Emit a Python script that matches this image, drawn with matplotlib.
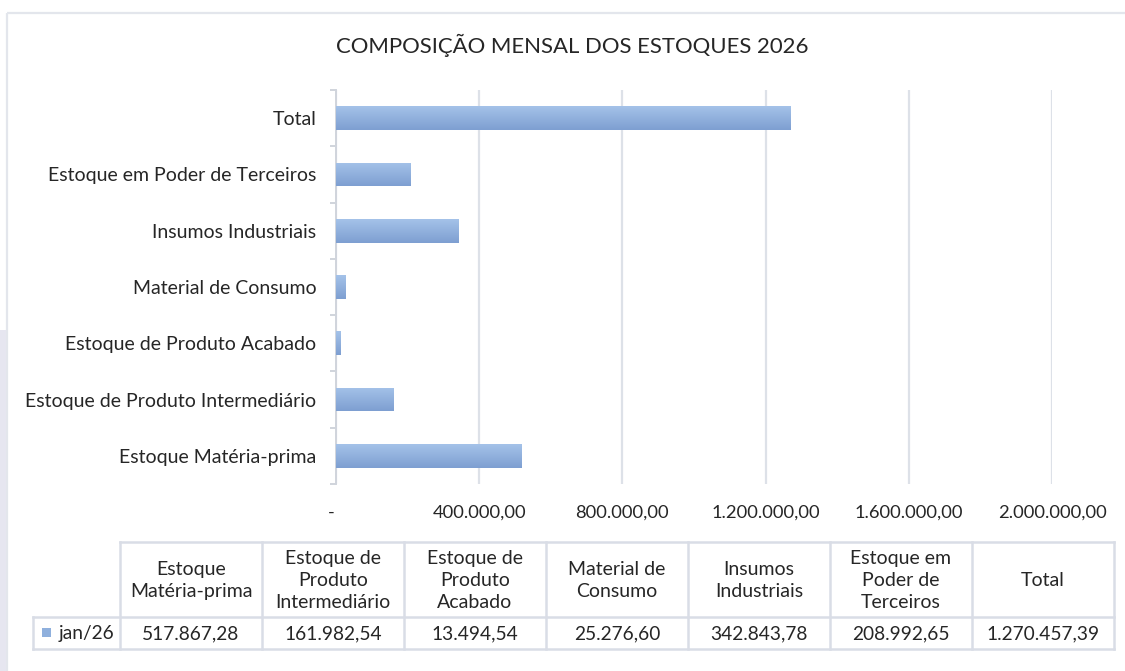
import numpy as np
import matplotlib
matplotlib.use("Agg")
import matplotlib.pyplot as plt
from matplotlib.colors import LinearSegmentedColormap
from matplotlib.patches import Rectangle

plt.rcParams['font.family'] = ['Lato', 'DejaVu Sans']

# data
categories = [
    "Estoque Matéria-prima",
    "Estoque de Produto Intermediário",
    "Estoque de Produto Acabado",
    "Material de Consumo",
    "Insumos Industriais",
    "Estoque em Poder de Terceiros",
    "Total",
]
table_headers = [
    "Estoque\nMatéria-prima",
    "Estoque de\nProduto\nIntermediário",
    "Estoque de\nProduto\nAcabado",
    "Material de\nConsumo",
    "Insumos\nIndustriais",
    "Estoque em\nPoder de\nTerceiros",
    "Total",
]
series_name = "jan/26"
values = [517867.28, 161982.54, 13494.54, 25276.60, 342843.78, 208992.65, 1270457.39]
x_ticks = [0, 400000, 800000, 1200000, 1600000, 2000000]
title = "COMPOSIÇÃO MENSAL DOS ESTOQUES 2026"


def fmt_br(v):
    if v == 0:
        return "-  "
    s = f"{v:,.2f}"
    return s.replace(",", "X").replace(".", ",").replace("X", ".")


W, H = 1125, 671
fig = plt.figure(figsize=(W / 100, H / 100), dpi=100)
fig.patch.set_facecolor("white")

text_color = "#262626"
grid_color = "#dde1e8"
border_color = "#d9dde6"

# chart area border + left lavender strip
overlay = fig.add_axes([0, 0, 1, 1], zorder=0)
overlay.set_xlim(0, W)
overlay.set_ylim(H, 0)
overlay.axis("off")
overlay.add_patch(Rectangle((7, 13), W + 10, H, fill=False, edgecolor="#e3e6ec", lw=1.6))
overlay.add_patch(Rectangle((0, 330), 6, H - 330, color="#e6e6f0", lw=0))

# bar chart
ax = fig.add_axes([336 / W, 1 - 484 / H, (1052 - 336) / W, (484 - 90) / H], zorder=1)
ax.patch.set_alpha(0)
y = np.arange(len(categories))
bars = ax.barh(y, values, height=0.42, color="#8fb0dd", zorder=2)

# vertical gradient for each bar (light on top, darker below)
grad = LinearSegmentedColormap.from_list("bar", ["#7e9fd1", "#a4c2e9"])
for b in bars:
    x0, y0, w, h = b.get_x(), b.get_y(), b.get_width(), b.get_height()
    im = ax.imshow(np.linspace(1, 0, 50).reshape(-1, 1), cmap=grad, aspect="auto",
                   extent=(x0, x0 + w, y0, y0 + h), origin="upper", zorder=3)
    im.set_clip_path(b)

ax.set_xlim(0, 2000000)
ax.set_ylim(-0.5, len(categories) - 0.5)
ax.set_xticks(x_ticks)
ax.set_xticklabels([fmt_br(v) for v in x_ticks])
ax.set_yticks(y)
ax.set_yticklabels(categories)
ax.grid(axis="x", color=grid_color, lw=1.6, zorder=0)
ax.set_axisbelow(True)
for s in ["top", "right", "bottom"]:
    ax.spines[s].set_visible(False)
ax.spines["left"].set_color("#d0d4dc")
ax.spines["left"].set_linewidth(1.4)
ax.tick_params(axis="y", length=0, labelsize=14, labelcolor=text_color, pad=14)
ax.tick_params(axis="x", length=0, labelsize=13.2, labelcolor=text_color, pad=15)
# small tick marks on the category boundaries
ax.set_yticks(np.arange(-0.5, len(categories), 1), minor=True)
ax.tick_params(axis="y", which="minor", length=4, color="#d0d4dc", width=1.4)

fig.text(572 / W, 1 - 45 / H, title, ha="center", va="center", fontsize=15.9, color=text_color)

# data table below the chart
tbl = fig.add_axes([0, 0, 1, 1], zorder=2)
tbl.set_xlim(0, W)
tbl.set_ylim(H, 0)
tbl.axis("off")
col_left = 120
col_w = (1114 - 120) / len(table_headers)
top, mid, bot = 542, 617, 649
lw = 1.8
col_x = [col_left + i * col_w for i in range(len(table_headers) + 1)]
tbl.plot([col_left, col_x[-1]], [top, top], color=border_color, lw=lw)
tbl.plot([33, col_x[-1]], [mid, mid], color=border_color, lw=lw)
tbl.plot([33, col_x[-1]], [bot, bot], color=border_color, lw=lw)
for cx in col_x:
    tbl.plot([cx, cx], [top, bot], color=border_color, lw=lw)
tbl.plot([33, 33], [mid, bot], color=border_color, lw=lw)

for i, (hdr, v) in enumerate(zip(table_headers, values)):
    cx = col_x[i] + col_w / 2
    tbl.text(cx, (top + mid) / 2 + 1, hdr, ha="center", va="center", fontsize=14,
             color=text_color, linespacing=1.38)
    tbl.text(cx, (mid + bot) / 2 + 1, fmt_br(v), ha="center", va="center", fontsize=13.8,
             color=text_color)

tbl.add_patch(Rectangle((42, 628), 9, 9, color="#8fb0dd", lw=0))
tbl.text(59, (mid + bot) / 2 + 1, series_name, ha="left", va="center", fontsize=13.8,
         color=text_color)

fig.savefig("out.png", dpi=100)
